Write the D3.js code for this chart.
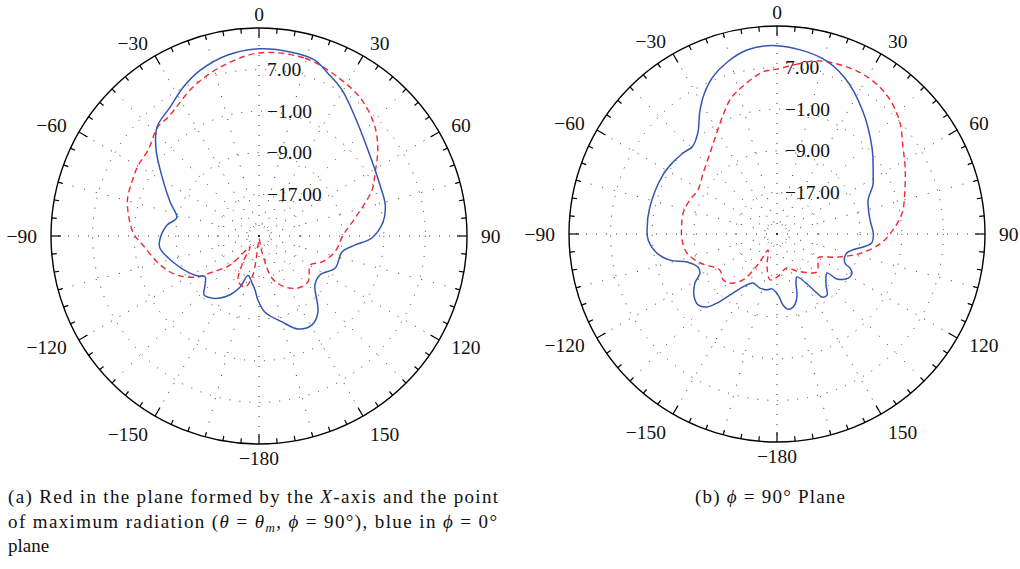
<!DOCTYPE html>
<html><head><meta charset="utf-8">
<script src="https://cdn.jsdelivr.net/npm/d3@7"></script>
<style>body{margin:0;background:#fff}</style>
</head><body>
<svg id="c" width="1020" height="569"></svg>
<script>
// ---- data ----
const angleTicks = [0, 30, 60, 90, 120, 150, 180, -150, -120, -90, -60, -30];
const angleTickLabels = ["0", "30", "60", "90", "120", "150", "−180", "−150", "−120", "−90", "−60", "−30"];
const ringValues = [7, -1, -9, -17];
const ringLabels = ["7.00", "−1.00", "−9.00", "−17.00"];
const dbDomain = [-25, 15];

// [angle in degrees, gain in dB]
const leftBlue = [[0,11.0],[10,10.9],[17.6,10.5],[22.9,9.0],[29.6,7.3],[38.9,4.4],[51.7,1.7],[67.1,0.25],[76.2,0.0],[83.6,-1.0],[91,-3.3],[95.4,-6.5],[100.9,-8.75],[112.8,-9.1],[122.6,-11.1],[131.2,-10.7],[142.2,-6.5],[149.2,-5.1],[157.2,-5.6],[165,-7.9],[175.5,-10.3],[-179,-12.7],[-175.8,-14.6],[-171.5,-15.9],[-164.5,-17.1],[-159.6,-14.5],[-153.8,-12.4],[-147.8,-10.9],[-142.8,-10.0],[-137,-9.5],[-132.8,-10.8],[-127.2,-12.0],[-123.3,-11.0],[-118.2,-9.9],[-106.8,-7.7],[-96.9,-5.8],[-92.3,-5.9],[-83.2,-7.2],[-77.6,-8.8],[-69.1,-6.7],[-59.7,-3.6],[-50.1,0.8],[-43.1,3.7],[-34.6,5.1],[-27,7.1],[-19.6,8.8],[-10,10.3]];
const leftRed = [[0,10.2],[14.5,10.3],[26.4,9.1],[37.1,7.8],[46.8,5.6],[54.1,3.2],[61.5,0.4],[67.8,-1.5],[79.4,-6.2],[89.3,-8.8],[101.9,-10.1],[112.4,-11.9],[119.6,-13.7],[126.5,-13.0],[133.2,-12.1],[143.1,-12.5],[153,-14.0],[162.8,-16.5],[169.4,-21.9],[180,-24.5],[-174,-23.3],[-171,-17.4],[-165,-14.8],[-159,-15.0],[-154.5,-15.6],[-148.4,-19.1],[-140.7,-22.3],[-135,-17.1],[-127,-13.2],[-123.5,-10.7],[-115.4,-7.5],[-106.3,-5.2],[-94.4,-2.6],[-88.6,-0.8],[-75,1.2],[-66,1.6],[-60,1.9],[-52,2.0],[-43,3.6],[-37,3.8],[-24,6.3],[-13,8.3]];
const rightBlue = [[0,11.2],[14.3,9.9],[23.6,7.7],[34.7,3.9],[47.7,-0.3],[57.6,-3.1],[63,-4.3],[69.5,-6.3],[81.4,-6.9],[89.4,-6.5],[95.4,-6.7],[105.2,-11.1],[113.1,-10.8],[115,-9.5],[117.5,-8.75],[121.8,-8.9],[126.9,-10.6],[127.9,-12.8],[136.1,-11.4],[140.7,-9.8],[144.5,-10.1],[145.9,-11.3],[155,-15.9],[158.8,-14.9],[162.4,-12.3],[167.6,-10.6],[171.7,-10.4],[175.2,-11.3],[179,-13.3],[-174.8,-14.4],[-169.9,-14.1],[-162.5,-14.1],[-153.9,-14.5],[-147.3,-12.9],[-142.4,-10.2],[-139,-7.4],[-136.2,-5.55],[-131.9,-4.6],[-127.2,-5.0],[-120.9,-6.6],[-116.9,-8.4],[-112.7,-8.5],[-107.3,-6.9],[-103.7,-3.8],[-99,-1.6],[-92.7,-0.2],[-88,0.0],[-78,0.0],[-62.6,-0.3],[-55.3,-0.7],[-49.2,-1.15],[-44,-1.6],[-37.8,-0.2],[-32.3,2.8],[-27.4,5.4],[-22.3,7.6],[-16.2,9.4],[-9.3,10.85]];
const rightRed = [[0,6.7],[6.7,7.9],[14,9.3],[27,9.9],[37.2,9.2],[46.8,7.2],[55.5,4.4],[62.4,2.8],[70.5,1.1],[80.5,-0.6],[88,-2.7],[95,-4.9],[103,-8.5],[111,-12.6],[120.3,-15.9],[127.1,-15.1],[133.5,-14.4],[151.6,-16.9],[163.6,-18.2],[180,-16.7],[-171.3,-16.1],[-163.1,-18.4],[-150.6,-21.5],[-148.7,-19.8],[-147.5,-17.6],[-143.5,-14.0],[-136.2,-11.9],[-130.4,-11.4],[-122.3,-12.0],[-110.6,-9.2],[-101.9,-7.3],[-93.6,-6.7],[-86,-6.6],[-77.4,-6.5],[-68.7,-7.0],[-60.9,-7.6],[-50.5,-6.6],[-39.6,-4.8],[-31.5,-2.6],[-24.4,0.1],[-18.9,2.5],[-12.9,4.2],[-4.9,6.3]];

// ---- drawing ----
const svg = d3.select("#c");
const R = 208;
const FONT = "'Liberation Serif', 'Times New Roman', serif";
const rScale = d3.scaleLinear().domain(dbDomain).range([0, R]);
const rad = a => a * Math.PI / 180;

const panels = [
  {cx: 259, cy: 236, blue: leftBlue, red: leftRed},
  {cx: 777, cy: 234, blue: rightBlue, red: rightRed}
];

panels.forEach(p => {
  const g = svg.append("g").attr("transform", `translate(${p.cx},${p.cy})`);
  // dotted rings
  g.selectAll("circle.ring").data(ringValues).join("circle")
    .attr("class", "ring").attr("r", d => rScale(d))
    .attr("fill", "none").attr("stroke", "#333").attr("stroke-width", 1)
    .attr("stroke-dasharray", "1,9");
  // dotted spokes
  g.selectAll("line.spoke").data(d3.range(0, 360, 15)).join("line")
    .attr("class", "spoke")
    .attr("x1", 0).attr("y1", 0)
    .attr("x2", d => R * Math.sin(rad(d))).attr("y2", d => -R * Math.cos(rad(d)))
    .attr("stroke", "#333").attr("stroke-width", 1)
    .attr("stroke-dasharray", (d, i) => i % 2 ? "1,11" : "1,9");
  // outer circle
  g.append("circle").attr("r", R).attr("fill", "none").attr("stroke", "#000").attr("stroke-width", 1.4);
  // ticks
  g.selectAll("line.tick").data(d3.range(0, 360, 5)).join("line")
    .attr("class", "tick")
    .attr("x1", d => R * Math.sin(rad(d))).attr("y1", d => -R * Math.cos(rad(d)))
    .attr("x2", d => (R - (d % 30 === 0 ? 10 : 5)) * Math.sin(rad(d)))
    .attr("y2", d => -(R - (d % 30 === 0 ? 10 : 5)) * Math.cos(rad(d)))
    .attr("stroke", "#000").attr("stroke-width", 1.2);
  // angle labels
  const LR = R + 14;
  g.selectAll("text.alab").data(angleTicks).join("text")
    .attr("class", "alab")
    .attr("x", d => LR * Math.sin(rad(d)))
    .attr("y", d => {
      const c = Math.cos(rad(d)), s = Math.sin(rad(d));
      let y = -LR * c;
      if (c < -0.7 && Math.abs(s) > 0.3) y += 6;
      return y;
    })
    .attr("text-anchor", d => { const s = Math.sin(rad(d)); return s > 0.3 ? "start" : (s < -0.3 ? "end" : "middle"); })
    .attr("dominant-baseline", "central")
    .attr("font-family", FONT).attr("font-size", 19.5).attr("fill", "#111")
    .text((d, i) => angleTickLabels[i]);
  // ring labels
  g.selectAll("text.rlab").data(ringValues).join("text")
    .attr("class", "rlab")
    .attr("x", 8).attr("y", d => -rScale(d))
    .attr("dominant-baseline", "central")
    .attr("font-family", FONT).attr("font-size", 19.5).attr("fill", "#111")
    .text((d, i) => ringLabels[i]);
  // curves
  const line = d3.lineRadial()
    .angle(d => rad(d[0])).radius(d => rScale(d[1]))
    .curve(d3.curveCatmullRomClosed.alpha(0.5));
  g.append("path").attr("d", line(p.red)).attr("fill", "none")
    .attr("stroke", "#f02a30").attr("stroke-width", 1.4).attr("stroke-dasharray", "6,4");
  g.append("path").attr("d", line(p.blue)).attr("fill", "none")
    .attr("stroke", "#3456b0").attr("stroke-width", 1.5);
});

// captions
const cap = svg.append("g").attr("font-family", FONT).attr("font-size", 19).attr("fill", "#111");
const l1 = cap.append("text").attr("x", 8).attr("y", 503);
l1.append("tspan").text("(a) Red in the plane formed by the ");
l1.append("tspan").attr("font-style", "italic").text("X");
l1.append("tspan").text("-axis and the point");
const l2 = cap.append("text").attr("x", 8).attr("y", 528);
l2.append("tspan").text("of maximum radiation (");
l2.append("tspan").attr("font-style", "italic").text("θ");
l2.append("tspan").text(" = ");
l2.append("tspan").attr("font-style", "italic").text("θ");
l2.append("tspan").attr("font-style", "italic").attr("font-size", 13).attr("dy", 4).text("m");
l2.append("tspan").attr("dy", -4).text(", ");
l2.append("tspan").attr("font-style", "italic").text("ϕ");
l2.append("tspan").text(" = 90°), blue in ");
l2.append("tspan").attr("font-style", "italic").text("ϕ");
l2.append("tspan").text(" = 0°");
cap.append("text").attr("x", 8).attr("y", 552).text("plane");
const l4 = cap.append("text").attr("x", 695).attr("y", 503);
l4.append("tspan").text("(b) ");
l4.append("tspan").attr("font-style", "italic").text("ϕ");
l4.append("tspan").text(" = 90° Plane");

// stretch lines to the reference width by spreading letters slightly
function stretch(sel, targetRight) {
  const node = sel.node();
  const x0 = +sel.attr("x");
  const w = node.getComputedTextLength();
  const n = node.textContent.length;
  if (n > 1) sel.attr("letter-spacing", Math.max(0, (targetRight - x0 - w) / (n - 1)));
}
stretch(l1, 498);
stretch(l2, 497);
stretch(l4, 845);
</script>
</body></html>
